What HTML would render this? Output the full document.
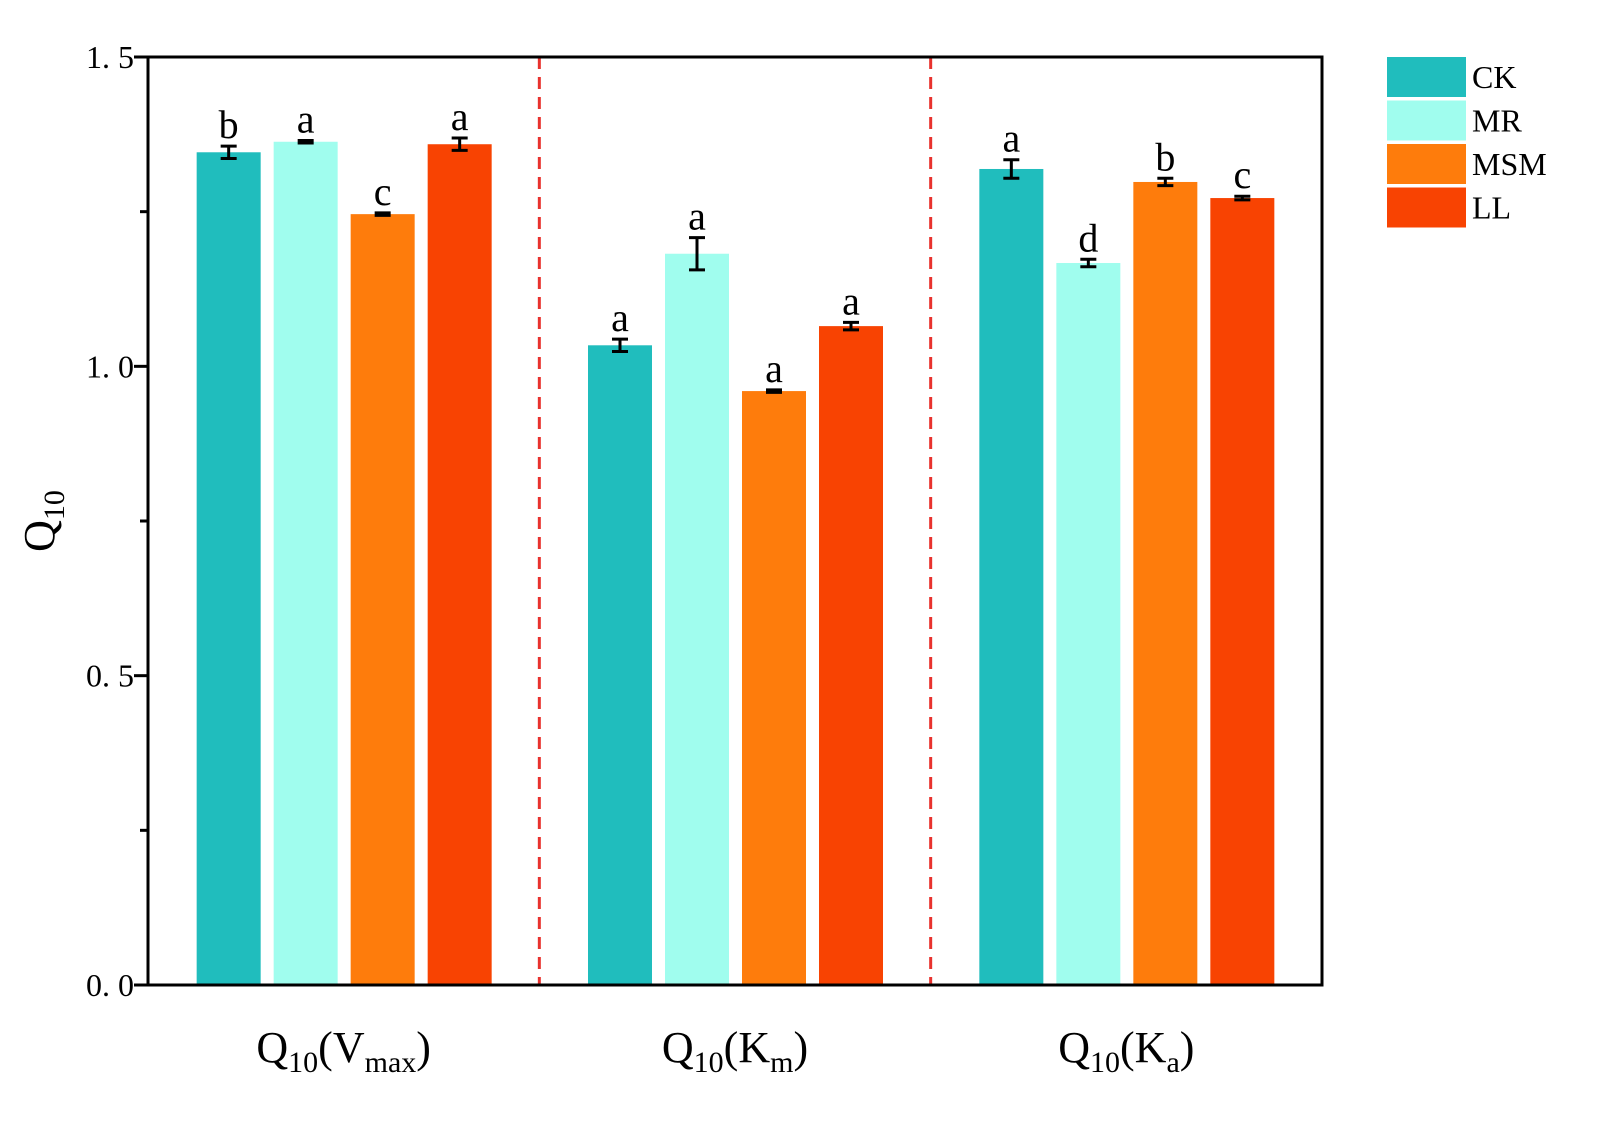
<!DOCTYPE html>
<html><head><meta charset="utf-8"><style>
body{margin:0;background:#fff}
svg text{font-family:"Liberation Serif",serif}
</style></head><body>
<svg id="chart" width="1615" height="1127" xmlns="http://www.w3.org/2000/svg"></svg>
<script>
const groups=["Q10(Vmax)","Q10(Km)","Q10(Ka)"];
const series=["CK","MR","MSM","LL"];
const colors=["#20BDBD","#A0FDEE","#FE7C0C","#F84302"];
const CKv=[1.346,1.034,1.319];
const MRv=[1.363,1.182,1.167];
const MSMv=[1.246,0.960,1.298];
const LLv=[1.359,1.065,1.272];
const CKe=[0.010,0.010,0.015];
const MRe=[0.002,0.026,0.006];
const MSMe=[0.002,0.002,0.006];
const LLe=[0.010,0.006,0.003];
const CKl=["b","a","a"];
const MRl=["a","a","d"];
const MSMl=["c","a","b"];
const LLl=["a","a","c"];
const yTicks=[0,0.5,1.0,1.5];
const yTickLabels=["0. 0","0. 5","1. 0","1. 5"];
const vals=[CKv,MRv,MSMv,LLv],errs=[CKe,MRe,MSMe,LLe],lets=[CKl,MRl,MSMl,LLl];
const NS="http://www.w3.org/2000/svg",svg=document.getElementById('chart');
const L=148,R=1322,T=57,B=985;
const y=v=>B-(v/1.5)*(B-T);
const gw=(R-L)/3;
const gc=i=>L+gw*(i+0.5);
const bx=(g,s)=>gc(g)-147+s*77;
function mk(t,a,p){const e=document.createElementNS(NS,t);for(const k in a)e.setAttribute(k,a[k]);(p||svg).appendChild(e);return e;}
for(let s=0;s<4;s++)for(let g=0;g<3;g++){
 const v=vals[s][g],x=bx(g,s);
 const r=mk('rect',{x:x,y:y(v),width:64,height:B-y(v),fill:colors[s]});
 
 
 const cx=x+32,e=errs[s][g];
 const eb=mk('path',{d:`M${cx-8},${y(v+e)}H${cx+8}M${cx},${y(v+e)}V${y(v-e)}M${cx-8},${y(v-e)}H${cx+8}`,stroke:'#000','stroke-width':3,fill:'none'});
 
 
 const t=mk('text',{x:cx,y:y(v+e)-8,'text-anchor':'middle','font-size':40});
 t.textContent=lets[s][g];
 
 
}
for(let i=1;i<3;i++){const x=L+gw*i;const d=mk('line',{x1:x,x2:x,y1:T,y2:B,stroke:'#E8322E','stroke-width':3,'stroke-dasharray':'12,8'});
 
 }
const f=mk('rect',{x:L,y:T,width:R-L,height:B-T,fill:'none',stroke:'#000','stroke-width':3});


for(let i=0;i<yTicks.length;i++){const yy=y(yTicks[i]);
 mk('line',{x1:L-14,x2:L,y1:yy,y2:yy,stroke:'#000','stroke-width':3});
 const t=mk('text',{x:L-14,y:yy+11,'text-anchor':'end','font-size':32});t.textContent=yTickLabels[i];
 
 
 if(i<yTicks.length-1){const ym=y(yTicks[i]+0.25);mk('line',{x1:L-8,x2:L,y1:ym,y2:ym,stroke:'#000','stroke-width':3});}
}
const xl=[["V","max"],["K","m"],["K","a"]];
for(let g=0;g<3;g++){const t=mk('text',{x:gc(g),y:1062,'text-anchor':'middle','font-size':44});
 t.innerHTML=`Q<tspan font-size="30" dy="10">10</tspan><tspan dy="-10">(${xl[g][0]}</tspan><tspan font-size="30" dy="10">${xl[g][1]}</tspan><tspan dy="-10">)</tspan>`;
 
 }
const yt=mk('text',{transform:'translate(54,521) rotate(-90)','text-anchor':'middle','font-size':44});
yt.innerHTML='Q<tspan font-size="30" dy="10">10</tspan>';


for(let s=0;s<4;s++){const yy=57+s*43.5;
 const r=mk('rect',{x:1387,y:yy,width:79,height:40,fill:colors[s]});
 
 
 const t=mk('text',{x:1472,y:yy+31,'font-size':32});t.textContent=series[s];
 
 }
</script>
</body></html>
